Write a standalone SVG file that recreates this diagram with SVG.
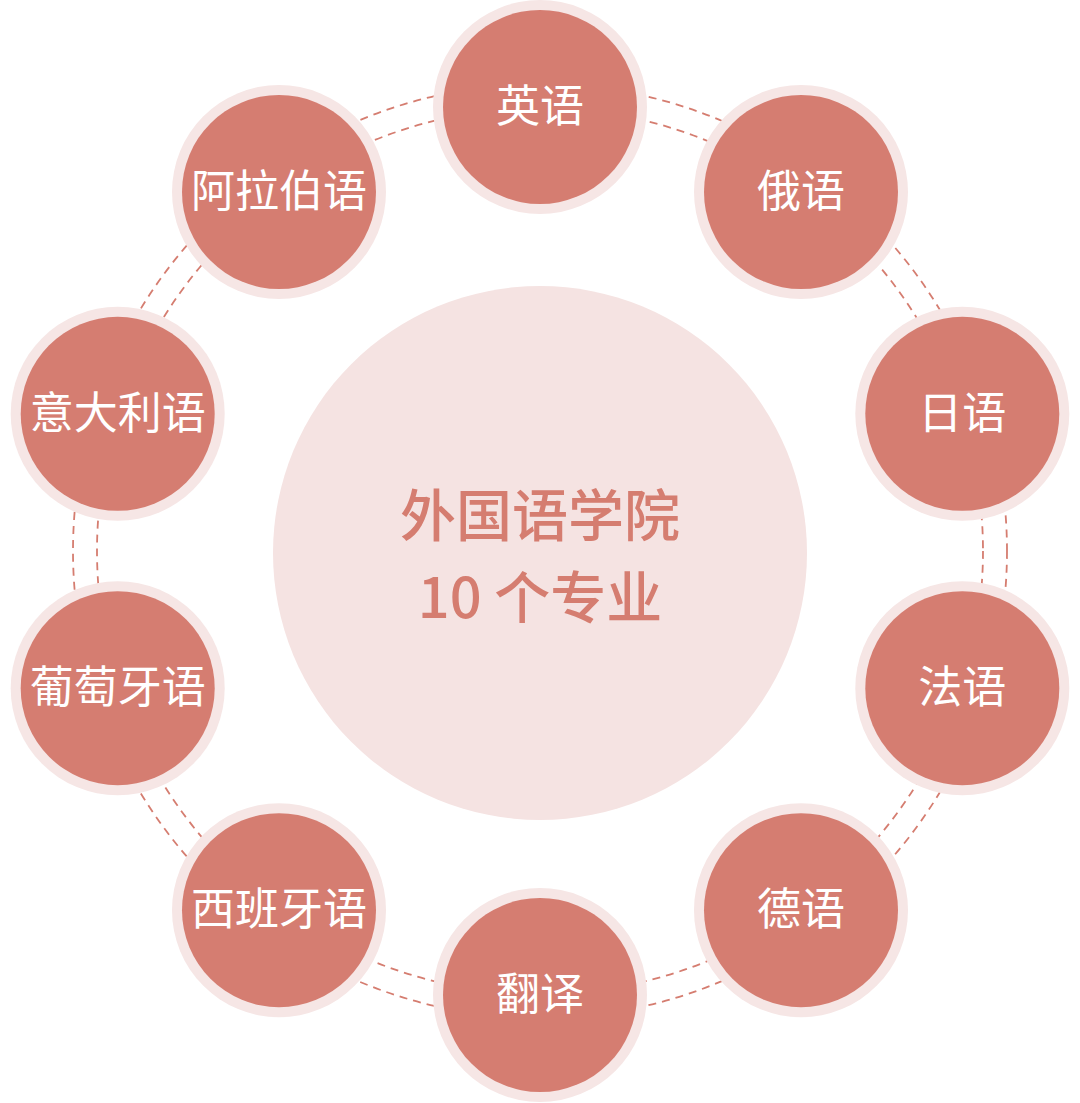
<svg xmlns="http://www.w3.org/2000/svg" width="1080" height="1103" viewBox="0 0 1080 1103">
<style>
.ring{fill:#f6e6e5}
.dot{fill:#d57d71}
.lbl{font-family:"Noto Sans CJK SC","Noto Sans",sans-serif;font-size:44px;fill:#ffffff;text-anchor:middle}
.ctr{font-family:"Noto Sans CJK SC","Noto Sans",sans-serif;font-size:56px;font-weight:500;fill:#d57d70;text-anchor:middle}
.dash{fill:none;stroke:#d57d70;stroke-width:1.8;stroke-dasharray:8 6}
</style>
<rect width="1080" height="1103" fill="#ffffff"/>
<g id="connectors">
<circle class="dash" cx="540" cy="551" r="443"/>
<circle class="dash" cx="540" cy="551" r="467"/>
</g>
<g id="center">
<circle cx="540" cy="553" r="267" fill="#f5e3e2"/>
<text class="ctr" x="540" y="536">外国语学院</text>
<text class="ctr" x="540" y="618">10 个专业</text>
</g>
<g id="n-english"><circle class="ring" cx="540" cy="107" r="107"/><circle class="dot" cx="540" cy="107" r="97"/><text class="lbl" x="540" y="122">英语</text></g>
<g id="n-russian"><circle class="ring" cx="801" cy="192" r="107"/><circle class="dot" cx="801" cy="192" r="97"/><text class="lbl" x="801" y="207">俄语</text></g>
<g id="n-japanese"><circle class="ring" cx="962.3" cy="413.8" r="107"/><circle class="dot" cx="962.3" cy="413.8" r="97"/><text class="lbl" x="962.3" y="429">日语</text></g>
<g id="n-french"><circle class="ring" cx="962.3" cy="688.2" r="107"/><circle class="dot" cx="962.3" cy="688.2" r="97"/><text class="lbl" x="962.3" y="703">法语</text></g>
<g id="n-german"><circle class="ring" cx="801" cy="910.2" r="107"/><circle class="dot" cx="801" cy="910.2" r="97"/><text class="lbl" x="801" y="925">德语</text></g>
<g id="n-translation"><circle class="ring" cx="540" cy="995" r="107"/><circle class="dot" cx="540" cy="995" r="97"/><text class="lbl" x="540" y="1010">翻译</text></g>
<g id="n-spanish"><circle class="ring" cx="279" cy="910.2" r="107"/><circle class="dot" cx="279" cy="910.2" r="97"/><text class="lbl" x="279" y="925">西班牙语</text></g>
<g id="n-portuguese"><circle class="ring" cx="117.7" cy="688.2" r="107"/><circle class="dot" cx="117.7" cy="688.2" r="97"/><text class="lbl" x="117.7" y="703">葡萄牙语</text></g>
<g id="n-italian"><circle class="ring" cx="117.7" cy="413.8" r="107"/><circle class="dot" cx="117.7" cy="413.8" r="97"/><text class="lbl" x="117.7" y="429">意大利语</text></g>
<g id="n-arabic"><circle class="ring" cx="279" cy="192" r="107"/><circle class="dot" cx="279" cy="192" r="97"/><text class="lbl" x="279" y="207">阿拉伯语</text></g>
</svg>
